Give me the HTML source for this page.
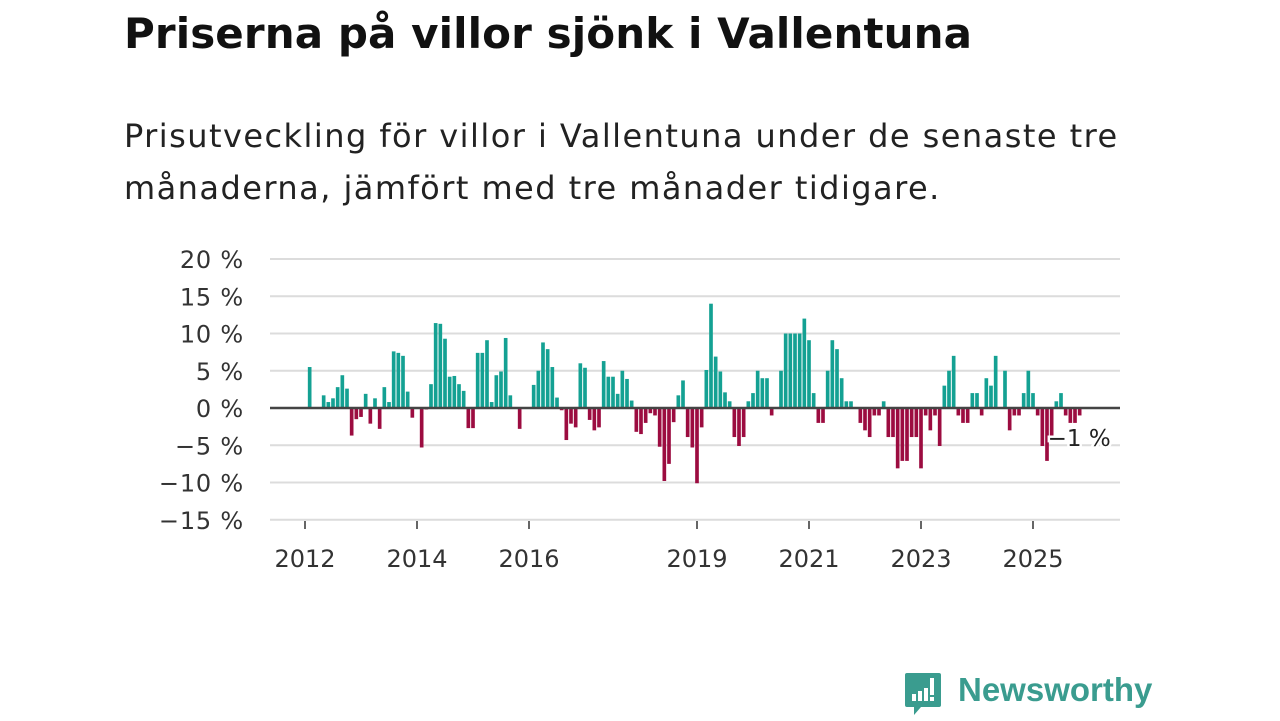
<!DOCTYPE html>
<html><head><meta charset="utf-8"><style>
body{margin:0;background:#fff;width:1280px;height:720px;overflow:hidden;font-family:"DejaVu Sans","Liberation Sans",sans-serif;}
#title{position:absolute;left:124px;top:9px;font-size:42px;font-weight:bold;color:#111;margin:0;white-space:nowrap;letter-spacing:0.1px;}
#sub{position:absolute;left:124px;top:110px;font-size:32px;line-height:52px;color:#222;margin:0;white-space:nowrap;letter-spacing:1.45px;}
svg{position:absolute;left:0;top:0;}
</style></head><body>
<h1 id="title">Priserna på villor sjönk i Vallentuna</h1>
<p id="sub">Prisutveckling för villor i Vallentuna under de senaste tre<br>månaderna, jämfört med tre månader tidigare.</p>
<svg id="chart" width="1280" height="720"></svg>
<script>
const startYear = 2012;
const values = [5.5,0,0,1.7,0.8,1.3,2.8,4.4,2.6,-3.7,-1.5,-1.2,1.9,-2.1,1.3,-2.8,2.8,0.8,7.6,7.4,7.0,2.2,-1.3,0,-5.3,-0.2,3.2,11.4,11.3,9.3,4.2,4.3,3.2,2.3,-2.7,-2.7,7.4,7.4,9.1,0.8,4.4,4.9,9.4,1.7,
0,-2.8,0,0,3.1,5.0,8.8,7.9,5.5,1.4,-0.3,-4.3,-2.1,-2.6,6.0,5.4,-1.6,-3.0,-2.6,6.3,4.2,4.2,1.9,5.0,3.9,1.0,-3.2,-3.5,-2.0,-0.7,-1.0,-5.2,-9.8,-7.5,-1.9,1.7,3.7,-3.9,-5.3,-10.1,-2.6,5.1,14.0,6.9,
4.9,2.1,0.9,-3.9,-5.1,-3.9,0.9,2.0,5.0,4.0,4.0,-1.0,0,5.0,10,10,10,10,12,9.1,2.0,-2.0,-2.0,5.0,9.1,7.9,4.0,0.9,0.9,0,-2.0,-3.0,-3.9,-1.0,-1.0,0.9,-3.9,-3.9,-8.1,-7.1,-7.1,-3.9,-3.9,
-8.1,-1.0,-3.0,-1.0,-5.1,3.0,5.0,7.0,-1.0,-2.0,-2.0,2.0,2.0,-1.0,4.0,3.0,7.0,0,5.0,-3.0,-1.0,-1.0,2.0,5.0,2.0,-1.0,-5.1,-7.1,-3.9,0.9,2.0,-1.0,-2.0,-2.0,-1.0];
const yTicks = [20,15,10,5,0,-5,-10,-15];
const xTickYears = [2012,2014,2016,2019,2021,2023,2025];
const lastLabel = "−1 %";

const NS="http://www.w3.org/2000/svg";
const svg=document.getElementById('chart');
function y(v){return 408 - v*7.45;}
function xYear(t){return 305 + (t-2012)*56;}
function mk(tag,attrs,parent){const e=document.createElementNS(NS,tag);for(const k in attrs)e.setAttribute(k,attrs[k]);(parent||svg).appendChild(e);return e;}
const F='"DejaVu Sans","Liberation Sans",sans-serif';
yTicks.forEach(t=>{
  const g=mk('line',{x1:270,x2:1120,y1:y(t),y2:y(t),stroke:'#dcdcdc','stroke-width':2});
  
  
  const lb=mk('text',{x:244,y:y(t)+9,'text-anchor':'end','font-size':24,fill:'#333','font-family':F,'letter-spacing':0.8});
  lb.textContent=(t<0?'−'+(-t):t)+' %';
  
  
});
xTickYears.forEach(yr=>{
  const tk=mk('line',{x1:xYear(yr),x2:xYear(yr),y1:521,y2:529,stroke:'#333','stroke-width':1.5});
  
  
  const lb=mk('text',{x:xYear(yr),y:567,'text-anchor':'middle','font-size':24,fill:'#333','font-family':F});
  lb.textContent=yr;
  
  
});
const bw=56/12-1;
values.forEach((v,i)=>{
  if(v===0)return;
  const cx=xYear(startYear+(i+1)/12);
  const r=mk('rect',{x:cx-bw/2,width:bw,y:Math.min(y(v),y(0)),height:Math.abs(y(v)-y(0)),fill:v>0?'#14a193':'#9c0c40'});
  
  
});
const z=mk('line',{x1:270,x2:1120,y1:y(0),y2:y(0),stroke:'#444','stroke-width':2.5});


const li=values.length-1;
const lbl=mk('text',{x:xYear(startYear+(li+1)/12)-32,y:446,'font-size':23,fill:'#222','font-family':F,stroke:'#fff','stroke-width':5,'paint-order':'stroke'});
lbl.textContent=lastLabel;


</script>
<div style="position:absolute;left:903px;top:671px;height:48px;">
<svg width="40" height="50" style="position:absolute;left:0;top:0">
<path d="M4 2h32a2 2 0 0 1 2 2v30a2 2 0 0 1-2 2H18l-7 8v-8H4a2 2 0 0 1-2-2V4a2 2 0 0 1 2-2z" fill="#3a9c8f"/>
<rect x="9" y="23" width="4" height="7" fill="#fff"/><rect x="15" y="20" width="4" height="10" fill="#fff"/><rect x="21" y="17" width="4" height="13" fill="#fff"/><rect x="27" y="7" width="4" height="17" fill="#fff"/><rect x="27" y="26" width="4" height="4" fill="#fff"/>
</svg>
<span style="position:absolute;left:55px;top:0;font-size:33px;font-weight:bold;color:#3a9c8f;white-space:nowrap;font-family:'Liberation Sans',sans-serif;">Newsworthy</span>
</div>
</body></html>
